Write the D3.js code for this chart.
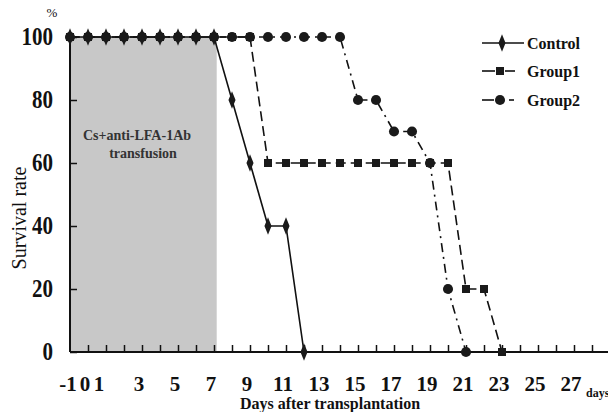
<!DOCTYPE html>
<html>
<head>
<meta charset="utf-8">
<script src="https://cdn.jsdelivr.net/npm/d3@7/dist/d3.min.js"></script>
<style>
  body { margin: 0; background: #fff; }
  text { font-family: "Liberation Serif", "Times New Roman", serif; }
</style>
</head>
<body>
<div id="chart"></div>
<script>
var svgWidth = 608;
var svgHeight = 412;

// data (day, survival %)
var controlDays   = [-1, 0, 1, 2, 3, 4, 5, 6, 7, 8, 9, 10, 11, 12];
var controlValues = [100, 100, 100, 100, 100, 100, 100, 100, 100, 80, 60, 40, 40, 0];

var group1Days   = [-1, 0, 1, 2, 3, 4, 5, 6, 7, 8, 9, 10, 11, 12, 13, 14, 15, 16, 17, 18, 19, 20, 21, 22, 23];
var group1Values = [100, 100, 100, 100, 100, 100, 100, 100, 100, 100, 100, 60, 60, 60, 60, 60, 60, 60, 60, 60, 60, 60, 20, 20, 0];

var group2Days   = [-1, 0, 1, 2, 3, 4, 5, 6, 7, 8, 9, 10, 11, 12, 13, 14, 15, 16, 17, 18, 19, 20, 21];
var group2Values = [100, 100, 100, 100, 100, 100, 100, 100, 100, 100, 100, 100, 100, 100, 100, 100, 80, 80, 70, 70, 60, 20, 0];

var xTickLabels = [-1, 0, 1, 3, 5, 7, 9, 11, 13, 15, 17, 19, 21, 23, 25, 27];
var yTickLabels = [0, 20, 40, 60, 80, 100];
var seriesNames = ["Control", "Group1", "Group2"];
var treatmentEnd = 7.15;

var svg = d3.select("#chart")
  .append("svg")
  .attr("width", svgWidth)
  .attr("height", svgHeight);

var x = d3.scaleLinear().domain([-1, 27]).range([70, 574]);
var y = d3.scaleLinear().domain([0, 100]).range([352, 37]);

// shaded treatment period
svg.append("rect")
  .attr("x", x(-1))
  .attr("y", y(100))
  .attr("width", x(treatmentEnd) - x(-1))
  .attr("height", y(0) - y(100))
  .attr("fill", "#c8c8c8");

svg.append("text")
  .attr("x", 137)
  .attr("y", 140)
  .attr("text-anchor", "middle")
  .attr("font-size", "14px")
  .attr("font-weight", "bold")
  .attr("fill", "#333")
  .text("Cs+anti-LFA-1Ab");

svg.append("text")
  .attr("x", 143)
  .attr("y", 158)
  .attr("text-anchor", "middle")
  .attr("font-size", "14px")
  .attr("font-weight", "bold")
  .attr("fill", "#333")
  .text("transfusion");

// axes
var xAxis = svg.append("g")
  .attr("transform", `translate(0, ${y(0)})`)
  .call(d3.axisTop(x).tickValues(d3.range(0, 29)).tickSize(7).tickFormat(""));
xAxis.select(".domain").remove();
xAxis.selectAll("line").attr("stroke", "#111").attr("stroke-width", 1.5);

svg.append("line")
  .attr("x1", x(-1)).attr("x2", 608)
  .attr("y1", y(0)).attr("y2", y(0))
  .attr("stroke", "#111").attr("stroke-width", 2);

var yAxis = svg.append("g")
  .attr("transform", `translate(${x(-1)}, 0)`)
  .call(d3.axisRight(y).tickValues(yTickLabels).tickSize(7).tickFormat(""));
yAxis.select(".domain").remove();
yAxis.selectAll("line").attr("stroke", "#111").attr("stroke-width", 1.5);

svg.append("line")
  .attr("x1", x(-1)).attr("x2", x(-1))
  .attr("y1", y(100)).attr("y2", y(0))
  .attr("stroke", "#111").attr("stroke-width", 2);

// tick labels (y ones slightly stretched vertically like the scanned figure)
svg.selectAll(".ylab")
  .data(yTickLabels)
  .enter()
  .append("text")
  .attr("transform", d => `translate(53, ${y(d) + 8}) scale(1, 1.15)`)
  .attr("text-anchor", "end")
  .attr("font-size", "21px")
  .attr("font-weight", "bold")
  .attr("fill", "#111")
  .text(d => d);

var labelShift = { "-1": 1, "0": 0, "1": -4 };
svg.selectAll(".xlab")
  .data(xTickLabels)
  .enter()
  .append("text")
  .attr("x", d => x(d) - 3 + (labelShift[d] || 0))
  .attr("y", 390.5)
  .attr("text-anchor", "middle")
  .attr("font-size", "21px")
  .attr("font-weight", "bold")
  .attr("fill", "#111")
  .text(d => d);

svg.append("text")
  .attr("x", 52).attr("y", 17)
  .attr("text-anchor", "middle")
  .attr("font-size", "13px")
  .attr("fill", "#111")
  .text("%");

svg.append("text")
  .attr("transform", "translate(26, 218) rotate(-90)")
  .attr("text-anchor", "middle")
  .attr("font-size", "20px")
  .attr("fill", "#111")
  .text("Survival rate");

svg.append("text")
  .attr("x", 330).attr("y", 409)
  .attr("text-anchor", "middle")
  .attr("font-size", "16px")
  .attr("font-weight", "bold")
  .attr("fill", "#111")
  .text("Days after transplantation");

svg.append("text")
  .attr("x", 586).attr("y", 397)
  .attr("font-size", "12px")
  .attr("font-weight", "bold")
  .attr("fill", "#111")
  .text("days");

// series
function toPoints(days, values) {
  return days.map((d, i) => ({ day: d, value: values[i] }));
}

var series = [
  { name: seriesNames[0], points: toPoints(controlDays, controlValues), dash: null, symbol: d3.symbolDiamond, size: 60 },
  { name: seriesNames[1], points: toPoints(group1Days, group1Values), dash: "10,5", symbol: d3.symbolSquare, size: 64 },
  { name: seriesNames[2], points: toPoints(group2Days, group2Values), dash: "9,5,2,5", symbol: d3.symbolCircle, size: 80 }
];

var line = d3.line()
  .x(d => x(d.day))
  .y(d => y(d.value));

series.forEach(function(s) {
  svg.append("path")
    .datum(s.points)
    .attr("d", line)
    .attr("fill", "none")
    .attr("stroke", "#111")
    .attr("stroke-width", 1.6)
    .attr("stroke-dasharray", s.dash);
});

series.slice().reverse().forEach(function(s) {
  svg.selectAll(null)
    .data(s.points)
    .enter()
    .append("path")
    .attr("d", d3.symbol().type(s.symbol).size(s.size))
    .attr("transform", d => `translate(${x(d.day)}, ${y(d.value)})` + (s.symbol === d3.symbolDiamond ? " scale(0.85,1.2)" : ""))
    .attr("fill", "#1a1a1a");
});

// legend: each key is drawn as left stroke, marker, right stroke
var legendRows = [
  { y: 43, left: [482, 524], right: null },
  { y: 71, left: [482, 495], right: [505, 515] },
  { y: 100, left: [482, 494], right: [509, 514] }
];

var legend = svg.append("g");

series.forEach(function(s, i) {
  var r = legendRows[i];
  legend.append("line")
    .attr("x1", r.left[0]).attr("x2", r.left[1])
    .attr("y1", r.y).attr("y2", r.y)
    .attr("stroke", "#111")
    .attr("stroke-width", 1.6);
  if (r.right) {
    legend.append("line")
      .attr("x1", r.right[0]).attr("x2", r.right[1])
      .attr("y1", r.y).attr("y2", r.y)
      .attr("stroke", "#111")
      .attr("stroke-width", 1.6);
  }
  legend.append("path")
    .attr("d", d3.symbol().type(s.symbol).size(s.size))
    .attr("transform", `translate(${i === 0 ? 502 : 500}, ${r.y})` + (i === 0 ? " scale(0.85,1.2)" : ""))
    .attr("fill", "#1a1a1a");
  legend.append("text")
    .attr("x", 527)
    .attr("y", r.y)
    .attr("dy", "0.35em")
    .attr("font-size", "16px")
    .attr("font-weight", "bold")
    .attr("fill", "#111")
    .text(s.name);
});
</script>
</body>
</html>
